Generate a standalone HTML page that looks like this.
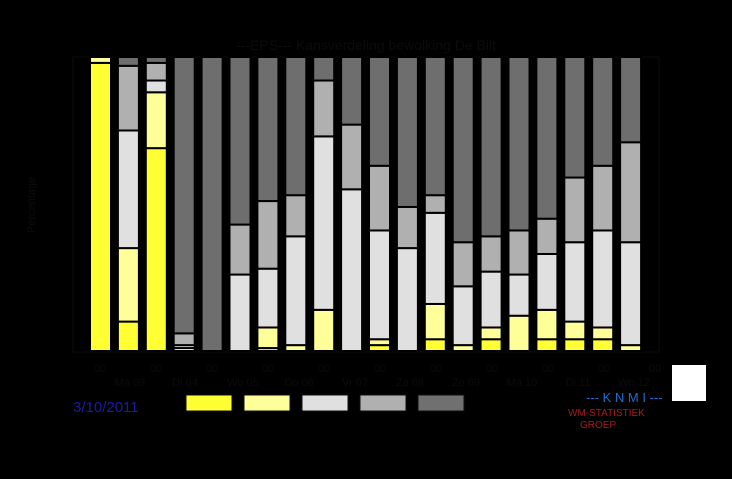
<!DOCTYPE html>
<html><head><meta charset="utf-8"><style>
html,body{margin:0;padding:0;background:#000;width:732px;height:479px;overflow:hidden}
svg{display:block}
text{font-family:"Liberation Sans",sans-serif}
</style></head><body>
<svg id="s" width="732" height="479" xmlns="http://www.w3.org/2000/svg">
<rect width="732" height="479" fill="#000"/>
<text x="366" y="50" font-size="14" fill="#0c0c0c" text-anchor="middle">---EPS---   Kansverdeling bewolking De Bilt</text>
<text x="35" y="205" font-size="11" fill="#0c0c0c" text-anchor="middle" transform="rotate(-90 35 205)">Percentage</text>
<rect x="73" y="57" width="586" height="295" fill="none" stroke="#0c0c0c" stroke-width="1"/>
<g id="bars"></g>
<g font-size="11" fill="#0c0c0c" text-anchor="middle">
<text x="100" y="372">00</text><text x="156" y="372">00</text><text x="212" y="372">00</text><text x="268" y="372">00</text><text x="324" y="372">00</text><text x="380" y="372">00</text><text x="436" y="372">00</text><text x="492" y="372">00</text><text x="548" y="372">00</text><text x="604" y="372">00</text><text x="655" y="372">00</text>
<text x="130" y="386">Ma 03</text><text x="185" y="386">Di 04</text><text x="243" y="386">Wo 05</text><text x="299" y="386">Do 06</text><text x="355" y="386">Vr 07</text><text x="410" y="386">Za 08</text><text x="466" y="386">Zo 09</text><text x="522" y="386">Ma 10</text><text x="578" y="386">Di 11</text><text x="634" y="386">Wo 12</text>
</g>
<text x="73" y="412" font-size="15" fill="#1a1aa8">3/10/2011</text>
<rect x="186" y="395" width="46" height="16" fill="#ffff33" stroke="#111"/>
<rect x="244" y="395" width="46" height="16" fill="#ffff99" stroke="#111"/>
<rect x="302" y="395" width="46" height="16" fill="#e0e0e0" stroke="#111"/>
<rect x="360" y="395" width="46" height="16" fill="#b0b0b0" stroke="#111"/>
<rect x="418" y="395" width="46" height="16" fill="#707070" stroke="#111"/>
<text x="586" y="402" font-size="13" fill="#1e6ecc">--- K N M I ---</text>
<text x="568" y="416" font-size="10" fill="#aa1a1a">WM-STATISTIEK</text>
<text x="580" y="428" font-size="10" fill="#aa1a1a">GROEP</text>
<rect x="672" y="365" width="34" height="36" fill="#fff"/>
</svg>
<script>
var d=[[98,100,100,100],[10,35,75,97],[69,88,92,98],[0,1,2,6],[0,0,0,0],[0,0,26,43],[1,8,28,51],[0,2,39,53],[0,14,73,92],[0,0,55,77],
[2,4,41,63],[0,0,35,49],[4,16,47,53],[0,2,22,37],[4,8,27,39],[0,12,26,41],[4,14,33,45],[4,10,37,59],[4,8,41,63],[0,2,37,71]];
var c=["#ffff33","#ffff99","#e0e0e0","#b0b0b0","#6e6e6e"];
var g=document.getElementById("bars"),h="";
function Y(v){return 351-v*2.94;}
for(var i=0;i<20;i++){var x=90+i*27.9,b=[0].concat(d[i]).concat([100]);
for(var k=0;k<5;k++){if(b[k+1]>b[k]){h+='<rect x="'+x+'" y="'+Y(b[k+1])+'" width="21" height="'+(Y(b[k])-Y(b[k+1]))+'" fill="'+c[k]+'" stroke="#000" stroke-width="2"/>';}}}
g.innerHTML=h;
</script>
</body></html>
